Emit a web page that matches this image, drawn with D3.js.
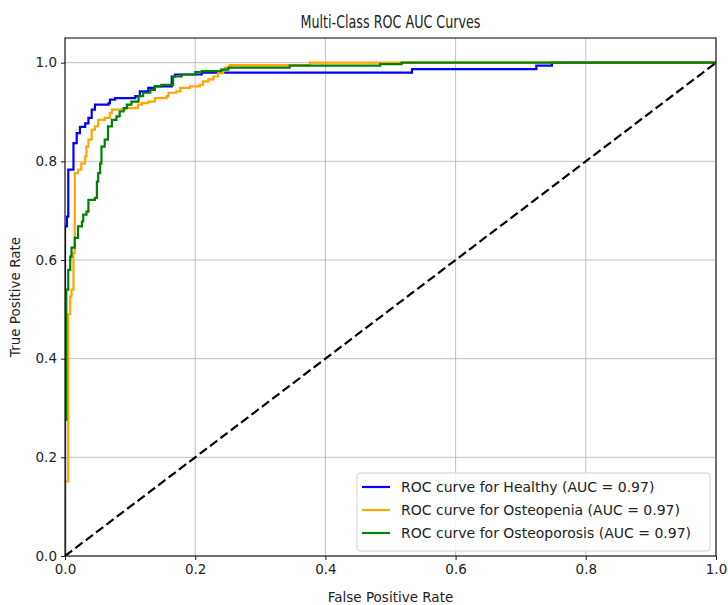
<!DOCTYPE html>
<html>
<head>
<meta charset="utf-8">
<script src="https://cdn.jsdelivr.net/npm/d3@7"></script>
<style>
  body { margin: 0; background: #fff; }
  text { font-family: "DejaVu Sans", sans-serif; fill: #222; }
</style>
</head>
<body>
<svg id="chart" width="728" height="605"></svg>
<script>
// ROC points: [false positive rate, true positive rate] where each step lands
var healthy = [
  [0, 0], [0, 0.668], [0.003, 0.688], [0.005, 0.783], [0.013, 0.837], [0.018, 0.857],
  [0.023, 0.87], [0.031, 0.877], [0.036, 0.888], [0.041, 0.905], [0.046, 0.915],
  [0.067, 0.918], [0.069, 0.925], [0.077, 0.928], [0.108, 0.932], [0.115, 0.942],
  [0.128, 0.949], [0.138, 0.952], [0.164, 0.972], [0.169, 0.976], [0.21, 0.98],
  [0.533, 0.987], [0.724, 0.994], [0.748, 1.0], [1, 1]
];
var osteopenia = [
  [0, 0], [0, 0.151], [0.005, 0.49], [0.008, 0.526], [0.01, 0.54], [0.013, 0.614],
  [0.015, 0.776], [0.02, 0.783], [0.025, 0.796], [0.031, 0.81], [0.033, 0.83],
  [0.036, 0.844], [0.041, 0.864], [0.046, 0.871], [0.051, 0.884], [0.061, 0.888],
  [0.069, 0.898], [0.072, 0.905], [0.092, 0.908], [0.112, 0.915], [0.118, 0.918],
  [0.128, 0.921], [0.138, 0.928], [0.156, 0.932], [0.159, 0.939], [0.171, 0.942],
  [0.177, 0.949], [0.192, 0.952], [0.207, 0.955], [0.212, 0.962], [0.22, 0.966],
  [0.228, 0.972], [0.235, 0.979], [0.243, 0.986], [0.246, 0.99], [0.253, 0.995],
  [0.376, 1.0], [1, 1]
];
var osteoporosis = [
  [0, 0], [0, 0.276], [0.002, 0.54], [0.005, 0.58], [0.008, 0.607], [0.01, 0.625],
  [0.015, 0.645], [0.02, 0.668], [0.026, 0.678], [0.028, 0.692], [0.033, 0.698],
  [0.036, 0.722], [0.046, 0.726], [0.049, 0.759], [0.051, 0.776], [0.054, 0.796],
  [0.056, 0.83], [0.061, 0.844], [0.066, 0.871], [0.072, 0.884], [0.079, 0.891],
  [0.084, 0.901], [0.09, 0.908], [0.095, 0.915], [0.102, 0.921], [0.113, 0.932],
  [0.12, 0.939], [0.131, 0.945], [0.138, 0.952], [0.148, 0.955], [0.166, 0.972],
  [0.179, 0.976], [0.2, 0.981], [0.21, 0.983], [0.24, 0.986], [0.251, 0.99],
  [0.345, 0.994], [0.484, 0.997], [0.517, 1.0], [1, 1]
];
var classNames = ['Healthy', 'Osteopenia', 'Osteoporosis'];
var aucValues = [0.97, 0.97, 0.97];
var classColors = ['#0000ff', '#ffa500', '#008000'];
var tickValues = [0, 0.2, 0.4, 0.6, 0.8, 1.0];

var curves = [healthy, osteopenia, osteoporosis];

var svg = d3.select('#chart');
var plotLeft = 65, plotRight = 716, plotTop = 38, plotBottom = 556;

var x = d3.scaleLinear().domain([0, 1]).range([plotLeft, plotRight]);
var y = d3.scaleLinear().domain([0, 1.05]).range([plotBottom, plotTop]);

svg.append('defs').append('clipPath').attr('id', 'plot-clip')
  .append('rect')
  .attr('x', plotLeft).attr('y', plotTop)
  .attr('width', plotRight - plotLeft).attr('height', plotBottom - plotTop);

// grid
var grid = svg.append('g').attr('class', 'grid');
grid.selectAll('line.gx').data(tickValues).enter().append('line')
  .attr('x1', function (d) { return x(d); })
  .attr('x2', function (d) { return x(d); })
  .attr('y1', plotTop).attr('y2', plotBottom)
  .attr('stroke', '#b0b0b0').attr('stroke-width', 0.8);
grid.selectAll('line.gy').data(tickValues).enter().append('line')
  .attr('y1', function (d) { return y(d); })
  .attr('y2', function (d) { return y(d); })
  .attr('x1', plotLeft).attr('x2', plotRight)
  .attr('stroke', '#b0b0b0').attr('stroke-width', 0.8);

// curves
var line = d3.line()
  .x(function (d) { return x(d[0]); })
  .y(function (d) { return y(d[1]); })
  .curve(d3.curveStepAfter);

var plot = svg.append('g').attr('clip-path', 'url(#plot-clip)');
plot.selectAll('path.roc').data(curves).enter().append('path')
  .attr('class', 'roc')
  .attr('d', line)
  .attr('fill', 'none')
  .attr('stroke', function (d, i) { return classColors[i]; })
  .attr('stroke-width', 2.2)
  .attr('stroke-linejoin', 'miter');

plot.append('path')
  .attr('d', d3.line().x(function (d) { return x(d[0]); }).y(function (d) { return y(d[1]); })([[0, 0], [1, 1]]))
  .attr('fill', 'none')
  .attr('stroke', '#000')
  .attr('stroke-width', 2.2)
  .attr('stroke-dasharray', '9,4');

// axes
var xAxis = d3.axisBottom(x).tickValues(tickValues).tickFormat(d3.format('.1f')).tickSize(4).tickPadding(4);
var yAxis = d3.axisLeft(y).tickValues(tickValues).tickFormat(d3.format('.1f')).tickSize(4).tickPadding(4);

var gx = svg.append('g').attr('transform', 'translate(0,' + plotBottom + ')').call(xAxis);
var gy = svg.append('g').attr('transform', 'translate(' + plotLeft + ',0)').call(yAxis);
[gx, gy].forEach(function (g) {
  g.select('.domain').remove();
  g.selectAll('.tick line').attr('stroke', '#000').attr('stroke-width', 0.9);
  g.selectAll('.tick text').style('font-size', '13.5px').attr('fill', '#222');
});

svg.append('rect')
  .attr('x', plotLeft).attr('y', plotTop)
  .attr('width', plotRight - plotLeft).attr('height', plotBottom - plotTop)
  .attr('fill', 'none').attr('stroke', '#000').attr('stroke-width', 1);

// labels
svg.append('text')
  .attr('x', (plotLeft + plotRight) / 2).attr('y', 28)
  .attr('text-anchor', 'middle')
  .attr('textLength', 180).attr('lengthAdjust', 'spacingAndGlyphs')
  .style('font-size', '18px')
  .text('Multi-Class ROC AUC Curves');

svg.append('text')
  .attr('x', (plotLeft + plotRight) / 2).attr('y', 602)
  .attr('text-anchor', 'middle')
  .style('font-size', '13.5px')
  .text('False Positive Rate');

svg.append('text')
  .attr('transform', 'translate(20,' + (plotTop + plotBottom) / 2 + ')rotate(-90)')
  .attr('text-anchor', 'middle')
  .style('font-size', '13.5px')
  .text('True Positive Rate');

// legend
var legend = svg.append('g');
legend.append('rect')
  .attr('x', 357).attr('y', 473)
  .attr('width', 353).attr('height', 78)
  .attr('rx', 3)
  .attr('fill', '#fff').attr('fill-opacity', 0.85)
  .attr('stroke', '#d0d0d0');

var rows = legend.selectAll('g.row').data(classNames).enter().append('g')
  .attr('transform', function (d, i) { return 'translate(0,' + (487 + i * 23) + ')'; });
rows.append('line')
  .attr('x1', 362).attr('x2', 390)
  .attr('stroke', function (d, i) { return classColors[i]; })
  .attr('stroke-width', 2.2);
rows.append('text')
  .attr('x', 401).attr('dy', '0.35em')
  .style('font-size', '14px')
  .text(function (d, i) { return 'ROC curve for ' + d + ' (AUC = ' + aucValues[i].toFixed(2) + ')'; });
</script>
</body>
</html>
